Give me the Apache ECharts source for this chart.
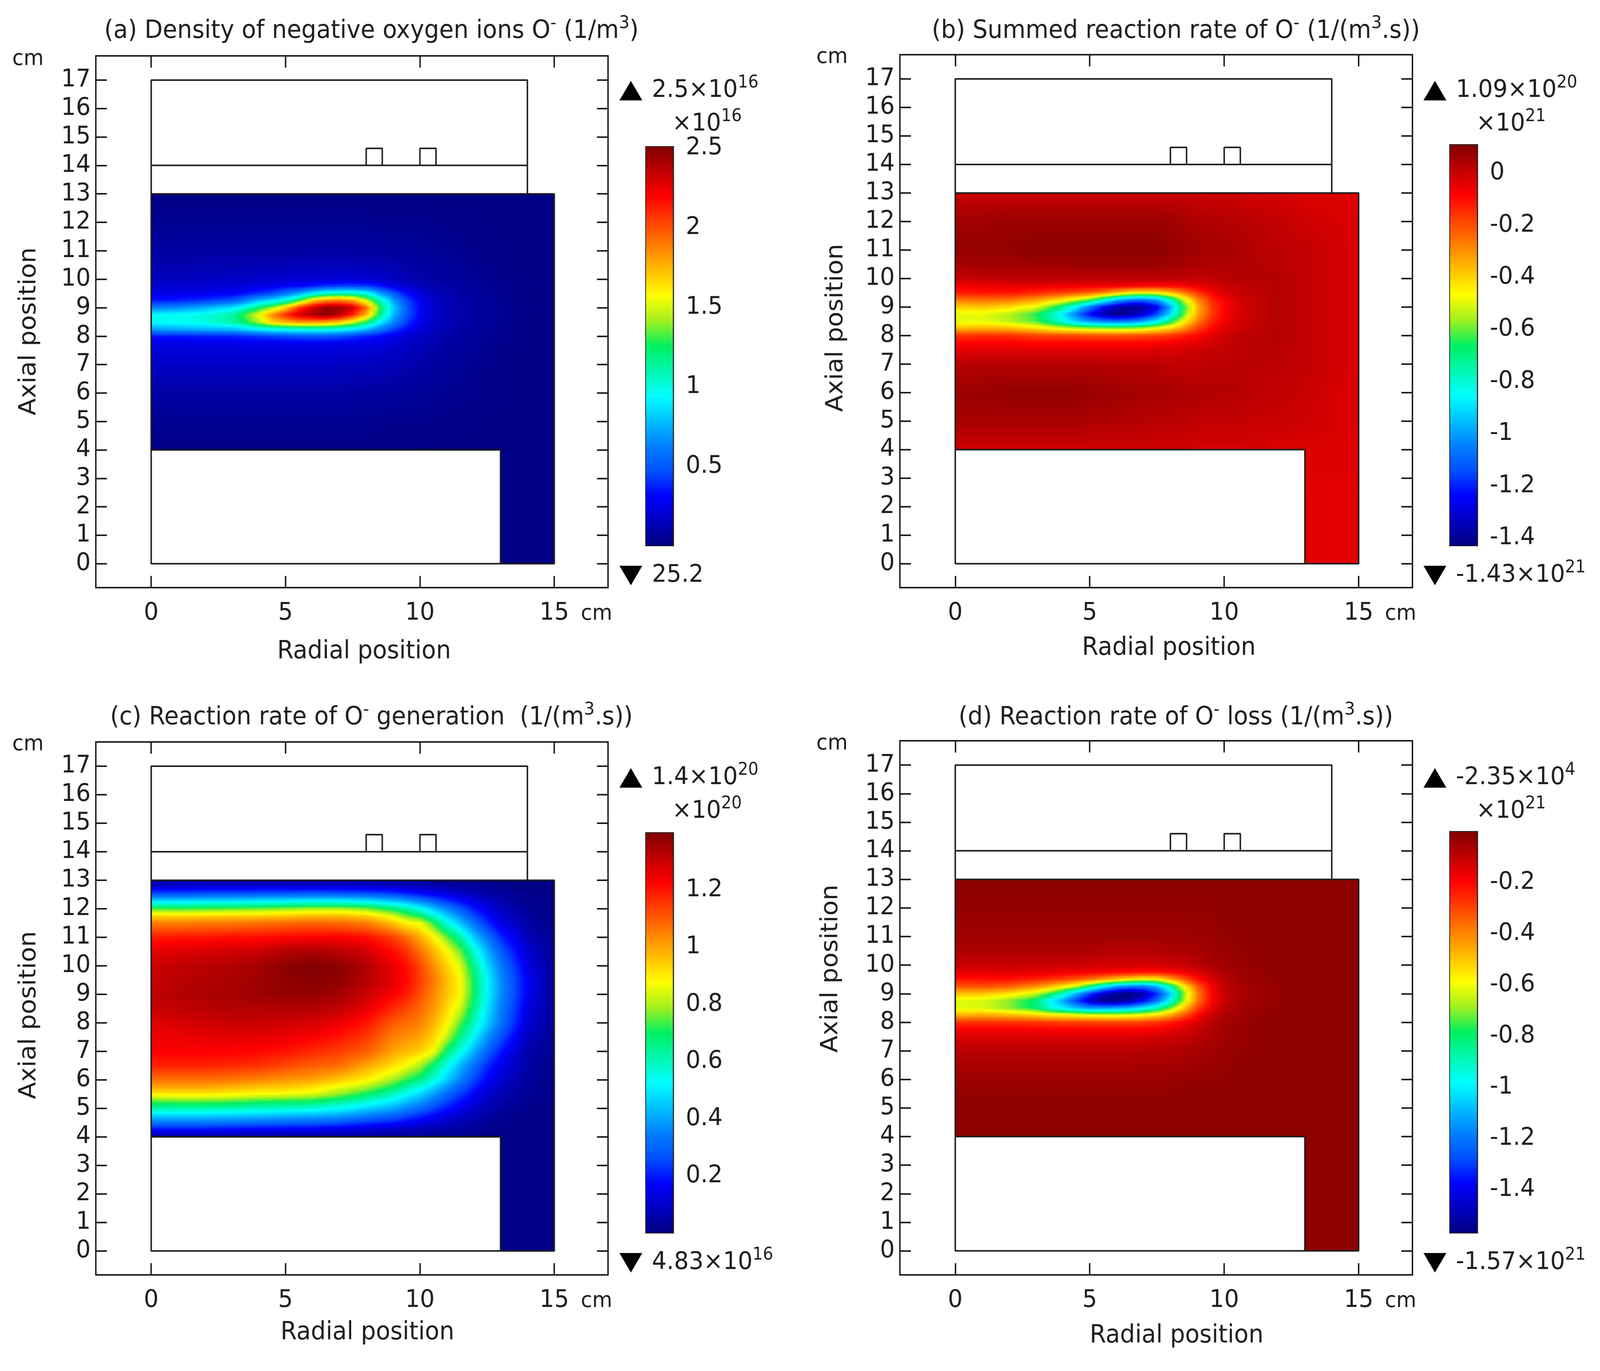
<!DOCTYPE html>
<html>
<head>
<meta charset="utf-8">
<style>
  html, body { margin: 0; background: #fff; overflow: hidden; }
  #main { width: 4342px; height: 3509px; transform-origin: 0 0; }
</style>
<script src="https://cdn.jsdelivr.net/npm/echarts@6/dist/echarts.min.js"></script>
</head>
<body>
<div id="main"></div>
<script>
// axis ticks
const radialTicks = [0, 5, 10, 15];
const axialTicks = [0, 1, 2, 3, 4, 5, 6, 7, 8, 9, 10, 11, 12, 13, 14, 15, 16, 17];

// sample positions (cm) for panels a, b, d
const plumeRs = [0, 1, 2, 3, 3.5, 4, 4.5, 5, 5.5, 6, 6.5, 7, 7.5, 8, 8.5, 9, 9.5, 10, 10.5, 11, 12, 13, 14, 15];
const plumeZs = [13, 12, 11, 10.5, 10, 9.75, 9.5, 9.25, 9, 8.75, 8.5, 8.25, 8, 7.75, 7.5, 7, 6, 5, 4];

// sample positions (cm) for panel c
const genRs = [0, 1, 2, 3, 4, 5, 6, 7, 8, 9, 9.5, 10, 10.5, 11, 11.5, 12, 12.5, 13, 14, 15];
const genZs = [13, 12.75, 12.5, 12.25, 12, 11.75, 11.5, 11, 10.5, 10, 9.5, 9, 8.5, 8, 7.5, 7, 6.5, 6, 5.75, 5.5, 5.25, 5, 4.75, 4.5, 4.25, 4];

// the strip below the chamber edge
const stripRs = [13, 14, 15];
const stripZs = [4, 2, 0];

// (a) x10^16, one list per radial position
const densityCols = [
  [.01,.04,.08,.11,.15,.2,.25,.35,.62,.95,.95,.72,.35,.26,.22,.17,.09,.04,.02],
  [.01,.04,.08,.11,.15,.2,.26,.37,.66,.96,.97,.75,.36,.26,.22,.17,.09,.04,.02],
  [.01,.04,.08,.12,.16,.21,.27,.42,.75,1,1,.78,.37,.26,.22,.17,.09,.04,.02],
  [.01,.04,.08,.12,.17,.22,.3,.5,.88,1.12,1.12,.8,.38,.26,.22,.17,.09,.04,.02],
  [.01,.04,.08,.12,.17,.23,.34,.62,1.02,1.32,1.26,.86,.4,.27,.22,.17,.09,.04,.02],
  [.01,.04,.08,.13,.18,.25,.4,.78,1.22,1.55,1.45,.95,.42,.27,.22,.17,.09,.04,.02],
  [.01,.04,.08,.13,.19,.27,.46,.88,1.4,1.85,1.68,1,.45,.27,.22,.17,.09,.04,.02],
  [.01,.04,.08,.13,.19,.3,.58,1.02,1.68,2.1,1.78,1.02,.47,.28,.22,.17,.09,.04,.02],
  [.01,.04,.09,.14,.2,.32,.72,1.3,2.05,2.3,1.85,1.05,.49,.28,.22,.17,.09,.04,.02],
  [.01,.04,.09,.14,.2,.36,.9,1.7,2.3,2.42,1.85,1.05,.5,.28,.22,.17,.09,.04,.02],
  [.01,.04,.09,.14,.21,.42,1.05,1.85,2.45,2.5,1.82,1.05,.5,.28,.22,.17,.09,.04,.02],
  [.01,.04,.09,.14,.21,.45,1.08,1.9,2.45,2.38,1.72,1,.48,.27,.22,.17,.09,.04,.02],
  [.01,.04,.09,.14,.21,.46,1.08,1.8,2.3,2.12,1.52,.92,.42,.27,.21,.16,.08,.04,.02],
  [.01,.04,.08,.13,.2,.44,.98,1.5,1.92,1.75,1.28,.8,.37,.26,.21,.16,.08,.04,.02],
  [.01,.03,.08,.13,.18,.36,.72,1.1,1.3,1.2,.94,.63,.32,.24,.2,.15,.08,.03,.02],
  [.01,.03,.07,.12,.16,.26,.5,.72,.82,.78,.65,.45,.26,.21,.18,.14,.07,.03,.02],
  [.01,.03,.07,.1,.13,.2,.33,.46,.52,.5,.43,.33,.21,.18,.16,.12,.07,.03,.02],
  [.01,.03,.06,.09,.11,.15,.22,.28,.3,.3,.27,.23,.17,.15,.13,.1,.06,.03,.02],
  [.01,.03,.05,.07,.09,.12,.15,.18,.2,.2,.18,.16,.13,.12,.1,.08,.05,.03,.01],
  [.01,.02,.05,.06,.08,.1,.12,.13,.14,.14,.13,.12,.1,.09,.08,.07,.04,.02,.01],
  [.01,.02,.03,.04,.05,.06,.07,.08,.08,.08,.08,.07,.06,.06,.05,.04,.03,.02,.01],
  [.01,.01,.02,.02,.03,.03,.04,.04,.05,.05,.04,.04,.03,.03,.03,.02,.02,.01,.01],
  [.01,.01,.01,.01,.02,.02,.02,.02,.02,.02,.02,.02,.02,.02,.01,.01,.01,.01,.01],
  [.01,.01,.01,.01,.01,.01,.01,.01,.01,.01,.01,.01,.01,.01,.01,.01,.01,.01,.01]
];
const densityStrip = [[.02, .01, .01], [.01, .01, .01], [.01, .01, .01]];

// (b) x10^21
const summedCols = [
  [0,.06,.08,.05,0,-.07,-.12,-.27,-.4,-.5,-.5,-.36,-.16,-.09,-.05,.02,.07,.05,-.01],
  [0,.06,.08,.06,.01,-.06,-.11,-.25,-.38,-.49,-.49,-.35,-.15,-.08,-.04,.03,.07,.05,-.01],
  [0,.07,.08,.06,.02,-.05,-.11,-.26,-.42,-.54,-.54,-.36,-.15,-.08,-.04,.03,.08,.05,-.01],
  [0,.07,.09,.06,.02,-.05,-.14,-.32,-.5,-.64,-.62,-.42,-.18,-.09,-.04,.03,.08,.05,-.01],
  [0,.07,.09,.06,.02,-.05,-.16,-.38,-.6,-.76,-.72,-.46,-.18,-.09,-.04,.03,.08,.05,-.01],
  [0,.07,.09,.06,.02,-.05,-.18,-.44,-.72,-.88,-.82,-.5,-.19,-.09,-.04,.03,.08,.05,-.01],
  [0,.07,.09,.07,.02,-.05,-.2,-.52,-.88,-1.06,-.94,-.52,-.19,-.09,-.04,.03,.08,.05,-.01],
  [0,.07,.09,.07,.02,-.05,-.23,-.62,-1.06,-1.24,-1.02,-.54,-.2,-.09,-.04,.03,.07,.04,-.01],
  [0,.07,.09,.07,.02,-.06,-.28,-.78,-1.24,-1.36,-1.06,-.55,-.2,-.09,-.04,.03,.07,.04,-.01],
  [0,.07,.09,.07,.02,-.06,-.36,-.96,-1.36,-1.42,-1.08,-.56,-.2,-.09,-.04,.02,.06,.04,-.01],
  [0,.07,.09,.07,.02,-.07,-.44,-1.06,-1.41,-1.38,-1.06,-.55,-.2,-.09,-.04,.02,.06,.03,-.01],
  [0,.07,.09,.07,.02,-.08,-.46,-1.08,-1.38,-1.3,-1,-.52,-.19,-.09,-.04,.02,.05,.03,-.01],
  [0,.07,.09,.07,.02,-.08,-.45,-1,-1.26,-1.14,-.86,-.47,-.18,-.08,-.03,.02,.05,.02,-.01],
  [0,.06,.08,.06,.02,-.08,-.38,-.78,-.98,-.9,-.68,-.4,-.16,-.07,-.03,.01,.05,.02,-.01],
  [0,.05,.07,.05,.01,-.07,-.27,-.52,-.64,-.6,-.47,-.3,-.12,-.06,-.02,.01,.04,.02,-.01],
  [-.01,.04,.06,.04,.01,-.05,-.16,-.3,-.36,-.34,-.27,-.18,-.09,-.04,-.01,.01,.04,.01,-.02],
  [-.01,.04,.05,.04,.01,-.02,-.08,-.15,-.18,-.18,-.14,-.1,-.04,-.02,0,.02,.03,.01,-.02],
  [-.01,.03,.05,.04,.02,0,-.03,-.07,-.08,-.08,-.07,-.04,-.01,0,.01,.02,.03,.01,-.02],
  [-.01,.03,.04,.04,.03,.01,0,-.02,-.03,-.03,-.02,-.01,.01,.02,.02,.02,.03,.01,-.02],
  [-.02,.02,.03,.03,.03,.02,.01,0,0,0,0,.01,.02,.02,.02,.02,.02,0,-.02],
  [-.02,.01,.02,.02,.03,.03,.03,.03,.03,.03,.03,.03,.03,.03,.02,.02,.01,0,-.03],
  [-.03,-.01,.01,.01,.01,.01,.01,.01,.01,.01,.01,.01,.01,.01,.01,.01,0,-.01,-.03],
  [-.03,-.02,-.01,-.01,-.01,-.01,-.01,-.01,-.01,-.01,-.01,-.01,-.01,-.01,-.01,-.01,-.02,-.02,-.03],
  [-.04,-.03,-.03,-.03,-.03,-.03,-.03,-.03,-.03,-.03,-.03,-.03,-.03,-.03,-.03,-.03,-.03,-.03,-.04]
];
const summedStrip = [[-.03, -.04, -.04], [-.03, -.04, -.04], [-.03, -.04, -.04]];

// (c) x10^20
const generationCols = [
  [.04,.13,.28,.5,.74,.93,1.05,1.19,1.26,1.29,1.3,1.31,1.3,1.27,1.25,1.23,1.18,1.07,1,.89,.74,.62,.47,.33,.18,.04],
  [.04,.13,.28,.5,.73,.93,1.05,1.2,1.27,1.31,1.32,1.33,1.31,1.28,1.25,1.23,1.18,1.07,1,.9,.75,.62,.47,.33,.18,.04],
  [.04,.14,.29,.51,.74,.93,1.06,1.2,1.28,1.32,1.33,1.34,1.32,1.29,1.26,1.23,1.18,1.07,1,.9,.75,.62,.47,.33,.18,.04],
  [.04,.14,.29,.51,.75,.94,1.06,1.21,1.29,1.33,1.34,1.35,1.33,1.3,1.26,1.23,1.17,1.06,.98,.89,.74,.61,.46,.32,.17,.04],
  [.04,.14,.3,.52,.76,.94,1.07,1.21,1.3,1.35,1.36,1.36,1.33,1.3,1.26,1.22,1.16,1.04,.96,.87,.72,.59,.45,.31,.16,.04],
  [.04,.14,.3,.53,.78,.95,1.08,1.22,1.33,1.38,1.38,1.37,1.33,1.29,1.25,1.2,1.13,1.02,.95,.86,.71,.58,.43,.3,.15,.04],
  [.04,.14,.31,.54,.8,.97,1.09,1.23,1.34,1.4,1.39,1.37,1.33,1.28,1.23,1.17,1.1,1,.92,.84,.7,.57,.42,.29,.15,.04],
  [.04,.14,.3,.54,.8,.97,1.08,1.23,1.32,1.38,1.38,1.35,1.31,1.25,1.2,1.14,1.08,.95,.86,.78,.65,.53,.4,.27,.13,.03],
  [.04,.13,.29,.52,.77,.94,1.05,1.21,1.29,1.33,1.33,1.3,1.26,1.2,1.15,1.1,1,.89,.8,.7,.58,.47,.35,.23,.11,.03],
  [.03,.12,.26,.46,.68,.84,.96,1.14,1.21,1.25,1.26,1.23,1.17,1.1,1.05,1,.92,.79,.7,.6,.5,.41,.3,.2,.09,.03],
  [.03,.11,.23,.42,.62,.76,.88,1.08,1.16,1.21,1.22,1.19,1.13,1.08,1.03,.97,.87,.72,.62,.53,.44,.36,.26,.17,.08,.03],
  [.03,.09,.2,.36,.54,.7,.86,.99,1.07,1.13,1.14,1.12,1.08,1.05,1,.94,.8,.66,.56,.47,.39,.31,.22,.14,.07,.02],
  [.02,.08,.17,.3,.45,.57,.72,.89,.98,1.03,1.06,1.04,1.02,.98,.94,.87,.68,.56,.47,.39,.32,.25,.18,.12,.06,.02],
  [.02,.06,.14,.24,.36,.46,.56,.76,.88,.94,.97,.96,.93,.89,.82,.68,.55,.46,.38,.31,.25,.2,.14,.09,.05,.02],
  [.02,.05,.11,.19,.28,.36,.44,.63,.76,.84,.88,.88,.83,.75,.66,.55,.43,.35,.29,.24,.19,.15,.1,.07,.04,.01],
  [.01,.04,.08,.14,.2,.26,.32,.46,.58,.66,.7,.7,.66,.6,.52,.42,.32,.25,.21,.17,.14,.1,.08,.05,.03,.01],
  [.01,.03,.06,.1,.14,.18,.22,.33,.42,.48,.52,.52,.49,.46,.38,.3,.22,.17,.14,.11,.09,.07,.05,.03,.02,.01],
  [.01,.02,.04,.06,.09,.11,.14,.22,.29,.34,.37,.37,.35,.33,.27,.2,.15,.11,.09,.07,.06,.04,.03,.02,.01,.01],
  [.01,.01,.02,.02,.03,.04,.05,.08,.11,.14,.16,.16,.14,.12,.09,.06,.05,.04,.03,.03,.02,.02,.01,.01,.01,.01],
  [.01,.01,.01,.01,.01,.01,.01,.02,.02,.03,.03,.03,.03,.03,.02,.02,.01,.01,.01,.01,.01,.01,.01,.01,.01,.01]
];
const generationStrip = [[.01, .01, .01], [.01, .01, .01], [.01, .01, .01]];

// (d) x10^21
const lossCols = [
  [-.02,-.03,-.05,-.07,-.11,-.16,-.22,-.33,-.5,-.62,-.62,-.47,-.27,-.19,-.14,-.09,-.04,-.02,-.02],
  [-.02,-.03,-.05,-.07,-.11,-.16,-.22,-.32,-.5,-.63,-.63,-.46,-.27,-.19,-.14,-.09,-.04,-.02,-.02],
  [-.02,-.03,-.05,-.07,-.11,-.15,-.22,-.34,-.55,-.7,-.7,-.48,-.27,-.19,-.14,-.09,-.04,-.02,-.02],
  [-.02,-.03,-.05,-.07,-.11,-.16,-.25,-.42,-.65,-.82,-.8,-.52,-.28,-.19,-.14,-.09,-.04,-.02,-.02],
  [-.02,-.03,-.05,-.07,-.11,-.16,-.27,-.48,-.76,-.98,-.92,-.56,-.28,-.2,-.14,-.09,-.04,-.02,-.02],
  [-.02,-.03,-.05,-.07,-.12,-.17,-.3,-.55,-.92,-1.12,-1,-.58,-.29,-.2,-.14,-.09,-.04,-.02,-.02],
  [-.02,-.03,-.05,-.07,-.12,-.18,-.33,-.66,-1.1,-1.3,-1.08,-.6,-.29,-.2,-.14,-.09,-.04,-.02,-.02],
  [-.02,-.03,-.05,-.07,-.12,-.18,-.38,-.82,-1.3,-1.46,-1.14,-.62,-.3,-.2,-.14,-.09,-.04,-.02,-.02],
  [-.02,-.03,-.05,-.08,-.13,-.19,-.44,-1,-1.46,-1.55,-1.14,-.63,-.3,-.2,-.14,-.09,-.04,-.02,-.02],
  [-.02,-.03,-.05,-.08,-.13,-.2,-.5,-1.14,-1.54,-1.56,-1.12,-.63,-.3,-.2,-.14,-.09,-.04,-.02,-.02],
  [-.02,-.03,-.05,-.08,-.13,-.21,-.56,-1.2,-1.57,-1.5,-1.08,-.62,-.3,-.2,-.14,-.09,-.04,-.02,-.02],
  [-.02,-.03,-.05,-.08,-.13,-.22,-.6,-1.2,-1.5,-1.38,-1,-.59,-.29,-.2,-.14,-.08,-.04,-.02,-.02],
  [-.02,-.03,-.05,-.08,-.13,-.22,-.58,-1.1,-1.32,-1.2,-.88,-.54,-.27,-.19,-.13,-.08,-.04,-.02,-.02],
  [-.02,-.03,-.05,-.07,-.12,-.21,-.46,-.88,-1.06,-.96,-.72,-.45,-.24,-.17,-.12,-.08,-.04,-.02,-.02],
  [-.02,-.03,-.05,-.07,-.11,-.18,-.33,-.58,-.7,-.66,-.5,-.33,-.19,-.14,-.11,-.07,-.03,-.02,-.02],
  [-.02,-.03,-.04,-.06,-.09,-.14,-.22,-.34,-.4,-.38,-.3,-.2,-.14,-.11,-.09,-.06,-.03,-.02,-.02],
  [-.02,-.03,-.04,-.05,-.07,-.1,-.14,-.19,-.2,-.2,-.17,-.12,-.09,-.08,-.07,-.05,-.03,-.02,-.02],
  [-.02,-.02,-.03,-.04,-.05,-.07,-.09,-.1,-.11,-.11,-.09,-.07,-.06,-.05,-.05,-.04,-.03,-.02,-.02],
  [-.02,-.02,-.03,-.03,-.04,-.05,-.06,-.07,-.07,-.07,-.06,-.05,-.04,-.04,-.04,-.03,-.02,-.02,-.02],
  [-.02,-.02,-.02,-.03,-.03,-.04,-.04,-.05,-.05,-.05,-.04,-.04,-.03,-.03,-.03,-.03,-.02,-.02,-.02],
  [-.02,-.02,-.02,-.02,-.02,-.02,-.03,-.03,-.03,-.03,-.03,-.02,-.02,-.02,-.02,-.02,-.02,-.02,-.02],
  [-.02,-.02,-.02,-.02,-.02,-.02,-.02,-.02,-.02,-.02,-.02,-.02,-.02,-.02,-.02,-.02,-.02,-.02,-.02],
  [-.02,-.02,-.02,-.02,-.02,-.02,-.02,-.02,-.02,-.02,-.02,-.02,-.02,-.02,-.02,-.02,-.02,-.02,-.02],
  [-.02,-.02,-.02,-.02,-.02,-.02,-.02,-.02,-.02,-.02,-.02,-.02,-.02,-.02,-.02,-.02,-.02,-.02,-.02]
];
const lossStrip = [[-.02, -.02, -.02], [-.02, -.02, -.02], [-.02, -.02, -.02]];

// reactor outline (cm)
const outlines = [
  [[0, 4], [0, 17], [14, 17], [14, 13]],
  [[0, 14], [14, 14]],
  [[0, 13], [15, 13], [15, 0], [0, 0], [0, 4], [13, 4], [13, 0]],
  [[8, 14], [8, 14.6], [8.6, 14.6], [8.6, 14]],
  [[10, 14], [10, 14.6], [10.6, 14.6], [10.6, 14]]
];

// colour bar ticks and ranges
const densityTicks = [0.5, 1, 1.5, 2, 2.5];
const summedTicks = [-1.4, -1.2, -1, -0.8, -0.6, -0.4, -0.2, 0];
const generationTicks = [0.2, 0.4, 0.6, 0.8, 1, 1.2];
const lossTicks = [-1.4, -1.2, -1, -0.8, -0.6, -0.4, -0.2];

// evenly spaced stops
const jet = ['#000080', '#0000c0', '#0000ff', '#0050ff', '#0080ff', '#00c0ff', '#00ffff', '#00f8b0', '#00f060',
  '#a0f020', '#ffff00', '#ffc000', '#ff8000', '#ff4000', '#ff0000', '#c00000', '#800000'];
const INK = '#1e1e1e';
const FONT = '"DejaVu Sans"';

const panels = [
  {
    title: '(a) Density of negative oxygen ions O{sup|-} (1/m{sup|3})', titleAt: [1008, 80],
    maxText: '2.5×10{sup|16}', minText: '25.2', scaleText: '×10{sup|16}', scaleAt: [1824, 318],
    rs: plumeRs, zs: plumeZs, cols: densityCols, strip: densityStrip, lo: 0, hi: 2.51, ticks: densityTicks,
    frame: [260, 143, 1390, 1361], bar: [1752, 375, 75, 1022],
    yNameAt: [79, 848], xNameAt: [988, 1668], yCmAt: [76, 151], xCmAt: [1619, 1571], markX: 1712, markTextX: 1769, markY: [232, 1473]
  },
  {
    title: '(b) Summed reaction rate of O{sup|-} (1/(m{sup|3}.s))', titleAt: [3191, 80],
    maxText: '1.09×10{sup|20}', minText: '-1.43×10{sup|21}', scaleText: '×10{sup|21}', scaleAt: [4006, 318],
    rs: plumeRs, zs: plumeZs, cols: summedCols, strip: summedStrip, lo: -1.43, hi: 0.109, ticks: summedTicks,
    frame: [2442, 140, 1391, 1364], bar: [3934, 370, 75, 1027],
    yNameAt: [2269, 839], xNameAt: [3172, 1659], yCmAt: [2258, 146], xCmAt: [3801, 1571], markX: 3894, markTextX: 3951, markY: [232, 1473]
  },
  {
    title: '(c) Reaction rate of O{sup|-} generation  (1/(m{sup|3}.s))', titleAt: [1008, 1837],
    maxText: '1.4×10{sup|20}', minText: '4.83×10{sup|16}', scaleText: '×10{sup|20}', scaleAt: [1824, 2077],
    rs: genRs, zs: genZs, cols: generationCols, strip: generationStrip, lo: 0, hi: 1.4, ticks: generationTicks,
    frame: [260, 1899, 1390, 1364], bar: [1752, 2131, 75, 1025],
    yNameAt: [79, 2598], xNameAt: [997, 3411], yCmAt: [76, 1905], xCmAt: [1619, 3330], markX: 1712, markTextX: 1769, markY: [1991, 3232]
  },
  {
    title: '(d) Reaction rate of O{sup|-} loss (1/(m{sup|3}.s))', titleAt: [3191, 1837],
    maxText: '-2.35×10{sup|4}', minText: '-1.57×10{sup|21}', scaleText: '×10{sup|21}', scaleAt: [4006, 2077],
    rs: plumeRs, zs: plumeZs, cols: lossCols, strip: lossStrip, lo: -1.57, hi: 0, ticks: lossTicks,
    frame: [2442, 1896, 1391, 1367], bar: [3934, 2128, 75, 1028],
    yNameAt: [2255, 2479], xNameAt: [3193, 3419], yCmAt: [2258, 1903], xCmAt: [3801, 3330], markX: 3894, markTextX: 3951, markY: [1991, 3232]
  }
];

function mix(a, b, f) {
  return a + (b - a) * f;
}

function jetColor(v, lo, hi) {
  const t = Math.min(1, Math.max(0, (v - lo) / (hi - lo)));
  return echarts.color.lerp(t, jet);
}

// shade the quad between four read samples, like the solver's own surface plot
function meshRender(rs, zs, cols, lo, hi) {
  return function (params, api) {
    const i = api.value(3);
    const j = api.value(4);
    if (i >= rs.length - 1 || j >= zs.length - 1) return null;
    const a = api.coord([rs[i], zs[j]]);
    const b = api.coord([rs[i + 1], zs[j + 1]]);
    const x0 = Math.round(a[0]);
    const x1 = Math.round(b[0]);
    const y0 = a[1];
    const y1 = b[1];
    const nRow = Math.max(1, Math.round((y1 - y0) / 4));
    const nCol = Math.max(1, Math.round((x1 - x0) / 12));
    const children = [];
    for (let k = 0; k < nRow; k++) {
      const f = (k + 0.5) / nRow;
      const left = mix(cols[i][j], cols[i][j + 1], f);
      const right = mix(cols[i + 1][j], cols[i + 1][j + 1], f);
      const colorStops = [];
      for (let m = 0; m <= nCol; m++) {
        colorStops.push({ offset: m / nCol, color: jetColor(mix(left, right, m / nCol), lo, hi) });
      }
      const top = Math.round(y0 + (y1 - y0) * k / nRow);
      const bottom = Math.round(y0 + (y1 - y0) * (k + 1) / nRow);
      children.push({
        type: 'rect',
        shape: { x: x0, y: top, width: x1 - x0 + 1, height: bottom - top + 1 },
        style: { fill: { type: 'linear', x: 0, y: 0, x2: 1, y2: 0, colorStops } }
      });
    }
    return { type: 'group', children };
  };
}

function meshSeries(p, rs, zs, cols, xIdx, yIdx) {
  const data = [];
  rs.forEach((r, i) => {
    zs.forEach((z, j) => {
      data.push([r, z, cols[i][j], i, j]);
    });
  });
  return {
    type: 'custom',
    xAxisIndex: xIdx,
    yAxisIndex: yIdx,
    data,
    encode: { x: 0, y: 1 },
    renderItem: meshRender(rs, zs, cols, p.lo, p.hi),
    progressive: 0,
    animation: false,
    silent: true,
    clip: false,
    z: 1
  };
}

function textItem(text, at, size, align, rotation) {
  const supSize = Math.round(size * 0.7);
  return {
    type: 'text',
    x: at[0],
    y: at[1],
    rotation: rotation || 0,
    silent: true,
    style: {
      text,
      fontSize: size,
      fontFamily: FONT,
      fill: INK,
      align: align || 'center',
      verticalAlign: 'middle',
      rich: { sup: { fontSize: supSize, fontFamily: FONT, fill: INK, padding: [0, 0, Math.round(size * 0.62), 0] } }
    }
  };
}

function triangle(cx, cy, up) {
  const w = 31;
  const h = 25;
  const points = up
    ? [[cx - w, cy + h], [cx + w, cy + h], [cx, cy - h]]
    : [[cx - w, cy - h], [cx + w, cy - h], [cx, cy + h]];
  return { type: 'polygon', silent: true, shape: { points }, style: { fill: '#000' } };
}

const grid = [];
const xAxis = [];
const yAxis = [];
const series = [];
const graphic = [];

const tickLine = { width: 4, color: INK };
const frameLine = { onZero: false, lineStyle: { width: 4, color: INK } };

panels.forEach(p => {
  const xIdx = xAxis.length;
  const yIdx = yAxis.length;
  const mainGrid = grid.length;

  grid.push({ left: p.frame[0], top: p.frame[1], width: p.frame[2], height: p.frame[3] });
  grid.push({ left: p.bar[0], top: p.bar[1], width: p.bar[2], height: p.bar[3] });

  const xBase = { type: 'value', gridIndex: mainGrid, min: -2.06, max: 17, splitLine: { show: false }, axisLine: frameLine };
  const yBase = { type: 'value', gridIndex: mainGrid, min: -0.84, max: 17.85, splitLine: { show: false }, axisLine: frameLine };
  const xTick = { inside: true, length: 30, lineStyle: tickLine, customValues: radialTicks };
  const yTick = { inside: true, length: 30, lineStyle: tickLine, customValues: axialTicks };

  xAxis.push(
    { ...xBase, position: 'bottom', axisTick: xTick,
      axisLabel: { customValues: radialTicks, fontSize: 63, fontFamily: FONT, color: INK, margin: 34 } },
    { ...xBase, position: 'top', axisTick: xTick, axisLabel: { show: false } },
    { type: 'value', gridIndex: mainGrid + 1, min: 0, max: 1, show: false }
  );
  yAxis.push(
    { ...yBase, position: 'left', axisTick: yTick,
      axisLabel: { customValues: axialTicks, fontSize: 63, fontFamily: FONT, color: INK, margin: 14 } },
    { ...yBase, position: 'right', axisTick: yTick, axisLabel: { show: false } }
  );

  const barBase = { type: 'value', gridIndex: mainGrid + 1, min: p.lo, max: p.hi, splitLine: { show: false }, axisLine: { onZero: false, lineStyle: { width: 3, color: INK } } };
  const barTick = { inside: true, length: 14, lineStyle: { width: 4, color: INK }, customValues: p.ticks };
  yAxis.push(
    { ...barBase, position: 'right', axisTick: barTick,
      axisLabel: { customValues: p.ticks, fontSize: 63, fontFamily: FONT, color: INK, margin: 34 } },
    { ...barBase, position: 'left', axisTick: barTick, axisLabel: { show: false } }
  );

  series.push(meshSeries(p, p.rs, p.zs, p.cols, xIdx, yIdx));
  series.push(meshSeries(p, stripRs, stripZs, p.strip, xIdx, yIdx));

  outlines.forEach(line => {
    series.push({
      type: 'line',
      xAxisIndex: xIdx,
      yAxisIndex: yIdx,
      data: line,
      showSymbol: false,
      lineStyle: { width: 4, color: INK },
      animation: false,
      silent: true,
      clip: false,
      z: 3
    });
  });

  // colour bar
  series.push({
    type: 'custom',
    xAxisIndex: xIdx + 2,
    yAxisIndex: yIdx + 2,
    data: [[0, p.lo, 1, p.hi]],
    encode: { x: [0, 2], y: [1, 3] },
    renderItem: (params, api) => {
      const a = api.coord([api.value(0), api.value(3)]);
      const b = api.coord([api.value(2), api.value(1)]);
      return {
        type: 'rect',
        shape: { x: a[0], y: a[1], width: b[0] - a[0], height: b[1] - a[1] },
        style: {
          fill: {
            type: 'linear', x: 0, y: 1, x2: 0, y2: 0,
            colorStops: jet.map((color, i) => ({ offset: i / (jet.length - 1), color }))
          },
          stroke: INK,
          lineWidth: 2
        }
      };
    },
    animation: false,
    silent: true,
    clip: false,
    z: 1
  });

  graphic.push(
    textItem(p.title, p.titleAt, 64),
    textItem('Axial position', p.yNameAt, 64, 'center', Math.PI / 2),
    textItem('Radial position', p.xNameAt, 64),
    textItem('cm', p.yCmAt, 56),
    textItem('cm', p.xCmAt, 56),
    triangle(p.markX, p.markY[0], true),
    triangle(p.markX, p.markY[1], false),
    textItem(p.maxText, [p.markTextX, p.markY[0]], 63, 'left'),
    textItem(p.minText, [p.markTextX, p.markY[1]], 63, 'left'),
    textItem(p.scaleText, p.scaleAt, 63, 'left')
  );
});

// the browser window can be narrower than the 4342px layout, squeeze to fit
const mainEl = document.getElementById('main');
mainEl.style.transform = 'scale(' + window.innerWidth / 4342 + ',' + window.innerHeight / 3509 + ')';

const chart = echarts.init(mainEl, null, { renderer: 'canvas', devicePixelRatio: 1, width: 4342, height: 3509 });
chart.setOption({
  backgroundColor: '#fff',
  animation: false,
  grid,
  xAxis,
  yAxis,
  series,
  graphic
});
</script>
</body>
</html>
